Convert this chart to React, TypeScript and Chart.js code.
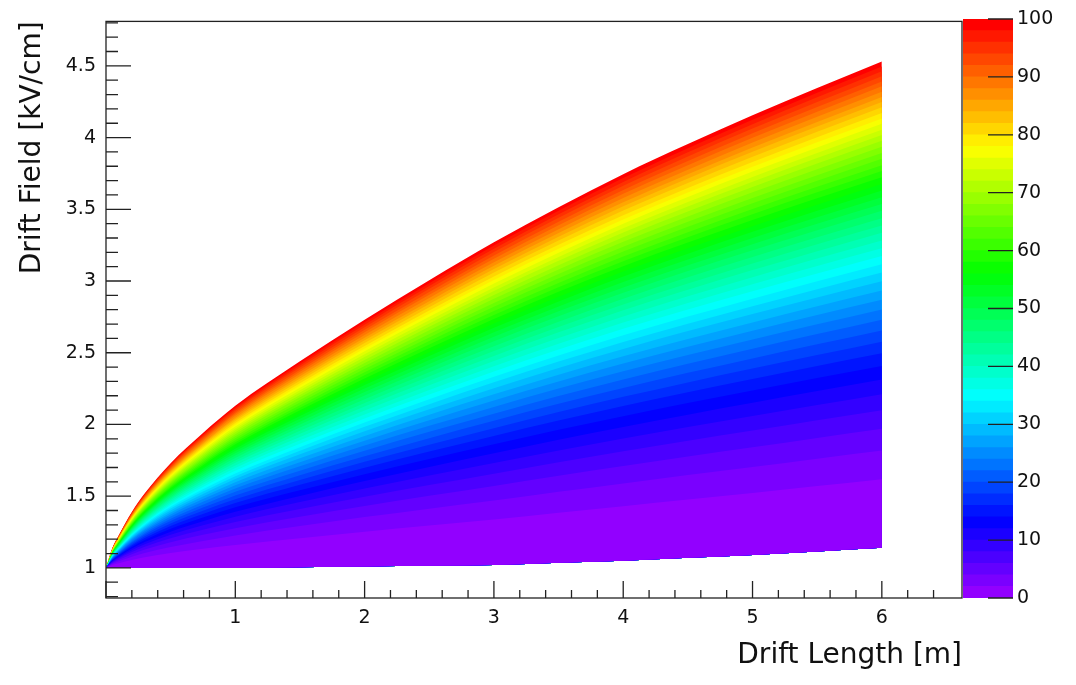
import React, { useEffect, useRef } from "react";
import { Chart, registerables } from "chart.js";

Chart.register(...registerables);

// ---- data ----
// Drift length sample columns (m)
const driftLength = [0, 0.05, 0.1, 0.2, 0.3, 0.5, 0.75, 1, 1.5, 2, 2.5, 3, 3.5, 4, 4.5, 5, 5.5, 6];
// Upper edge of the filled region (z = 100), kV/cm
const fieldAtTop = [1.0, 1.14, 1.23, 1.39, 1.52, 1.73, 1.94, 2.13, 2.44, 2.73, 3.005, 3.27, 3.515, 3.745, 3.955, 4.155, 4.345, 4.53];
// Lower edge of the filled region (z = 0), kV/cm
const fieldAtBottom = [1.0, 1.0, 1.0, 1.0, 1.0, 1.0, 1.0, 1.0, 1.005, 1.01, 1.015, 1.02, 1.035, 1.05, 1.07, 1.09, 1.115, 1.14];
// Contour levels of the colour (z) axis
const zLevels = [
  0, 2, 4, 6, 8, 10, 12, 14, 16, 18, 20, 22, 24, 26, 28, 30, 32, 34, 36, 38, 40, 42, 44, 46, 48, 50,
  52, 54, 56, 58, 60, 62, 64, 66, 68, 70, 72, 74, 76, 78, 80, 82, 84, 86, 88, 90, 92, 94, 96, 98, 100,
];
// Relative height of each contour level inside the filled band (0 = bottom edge, 1 = top edge)
const zLevelFraction = [
  0, 0.141, 0.2, 0.245, 0.283, 0.316, 0.346, 0.374, 0.4, 0.424, 0.447, 0.469, 0.49, 0.51, 0.529, 0.548,
  0.566, 0.583, 0.6, 0.616, 0.632, 0.648, 0.663, 0.678, 0.693, 0.707, 0.721, 0.735, 0.748, 0.762, 0.775,
  0.787, 0.8, 0.812, 0.825, 0.837, 0.849, 0.86, 0.872, 0.883, 0.894, 0.906, 0.917, 0.927, 0.938, 0.949,
  0.959, 0.97, 0.98, 0.99, 1,
];
const xTickValues = [1, 2, 3, 4, 5, 6];
const yTickValues = [1, 1.5, 2, 2.5, 3, 3.5, 4, 4.5];
const zTickValues = [0, 10, 20, 30, 40, 50, 60, 70, 80, 90, 100];

const FONT = "'DejaVu Sans', 'Liberation Sans', Arial, sans-serif";
const TEXT = "#111";
const AXIS = "#222";

// ROOT "pretty" palette: hue from violet (280) down to red (0)
function paletteColor(k: number): string {
  const hue = Math.max(0, 280 - k * 5.6);
  return `hsl(${hue}, 100%, 50%)`;
}

const framePlugin = {
  id: "rootFrame",
  afterDatasetsDraw(chart: any) {
    const { ctx, chartArea: a, scales } = chart;
    const x = scales.x;
    const y = scales.y;
    ctx.save();
    ctx.strokeStyle = AXIS;
    ctx.lineWidth = 1.3;
    ctx.beginPath();
    for (let i = 8; i <= 48; i++) {
      const py = y.getPixelForValue(i / 10);
      const len = i % 5 === 0 ? 25 : 12;
      ctx.moveTo(a.left, py);
      ctx.lineTo(a.left + len, py);
    }
    for (let i = 0; i <= 32; i++) {
      const px = x.getPixelForValue(i * 0.2);
      const len = i % 5 === 0 ? 17 : 8;
      ctx.moveTo(px, a.bottom);
      ctx.lineTo(px, a.bottom - len);
    }
    ctx.stroke();
    ctx.strokeRect(a.left, a.top, a.right - a.left, a.bottom - a.top);
    ctx.restore();
  },
};

const colorbarTickPlugin = {
  id: "colorbarTicks",
  afterDatasetsDraw(chart: any) {
    const { ctx, chartArea: a, scales } = chart;
    const y = scales.y;
    ctx.save();
    ctx.strokeStyle = AXIS;
    ctx.lineWidth = 1.3;
    ctx.beginPath();
    zTickValues.forEach((v) => {
      const py = y.getPixelForValue(v);
      ctx.moveTo(a.right - 25, py);
      ctx.lineTo(a.right, py);
    });
    ctx.stroke();
    ctx.restore();
  },
};

export default function App() {
  const mainRef = useRef<HTMLCanvasElement | null>(null);
  const barRef = useRef<HTMLCanvasElement | null>(null);

  useEffect(() => {
    document.body.style.margin = "0";
    if (!mainRef.current || !barRef.current) return;

    const datasets: any[] = zLevels.map((lev, k) => ({
      label: `z=${lev}`,
      data: driftLength.map((x, i) => ({
        x,
        y: fieldAtBottom[i] + zLevelFraction[k] * (fieldAtTop[i] - fieldAtBottom[i]),
      })),
      borderColor: "rgba(0,0,0,0)",
      borderWidth: 0,
      pointRadius: 0,
      cubicInterpolationMode: "monotone",
      backgroundColor: k === 0 ? "rgba(0,0,0,0)" : paletteColor(k),
      fill: k === 0 ? false : 0,
    }));

    const main = new Chart(mainRef.current, {
      type: "line",
      data: { datasets },
      options: {
        responsive: false,
        animation: false,
        devicePixelRatio: 1,
        events: [],
        layout: { padding: { top: 18, right: 114, left: 0, bottom: 0 } },
        plugins: {
          legend: { display: false },
          tooltip: { enabled: false },
          filler: { propagate: false },
        },
        scales: {
          x: {
            type: "linear",
            min: 0,
            max: 6.62,
            grid: { display: false, drawTicks: false },
            border: { display: false },
            afterBuildTicks: (s: any) => {
              s.ticks = xTickValues.map((v) => ({ value: v }));
            },
            afterFit: (s: any) => {
              s.height = 87;
            },
            ticks: {
              font: { family: FONT, size: 19 },
              color: TEXT,
              padding: 9,
              maxRotation: 0,
              autoSkip: false,
              callback: (v: any) => String(v),
            },
            title: {
              display: true,
              text: "Drift Length [m]",
              align: "end",
              color: TEXT,
              font: { family: FONT, size: 28 },
              padding: { top: 0, bottom: 12 },
            },
          },
          y: {
            type: "linear",
            min: 0.79,
            max: 4.81,
            grid: { display: false, drawTicks: false },
            border: { display: false },
            afterBuildTicks: (s: any) => {
              s.ticks = yTickValues.map((v) => ({ value: v }));
            },
            afterFit: (s: any) => {
              s.width = 106;
            },
            ticks: {
              font: { family: FONT, size: 19 },
              color: TEXT,
              padding: 10,
              autoSkip: false,
              callback: (v: any) => String(v),
            },
            title: {
              display: true,
              text: "Drift Field [kV/cm]",
              align: "end",
              color: TEXT,
              font: { family: FONT, size: 28 },
              padding: { top: 16, bottom: 0 },
            },
          },
        },
      } as any,
      plugins: [framePlugin],
    });

    const barDatasets: any[] = zLevels.slice(1).map((lev, j) => ({
      label: `band ${j}`,
      data: [[0, lev]],
      backgroundColor: paletteColor(j + 1),
      borderWidth: 0,
      grouped: false,
      barPercentage: 1,
      categoryPercentage: 1,
    }));

    const bar = new Chart(barRef.current, {
      type: "bar",
      data: { labels: ["z"], datasets: barDatasets },
      options: {
        responsive: false,
        animation: false,
        devicePixelRatio: 1,
        events: [],
        layout: { padding: { top: 19, bottom: 87, left: 0, right: 0 } },
        plugins: { legend: { display: false }, tooltip: { enabled: false } },
        scales: {
          x: { display: false },
          y: {
            position: "right",
            min: 0,
            max: 100,
            grid: { display: false, drawTicks: false },
            border: { display: false },
            afterBuildTicks: (s: any) => {
              s.ticks = zTickValues.map((v) => ({ value: v }));
            },
            afterFit: (s: any) => {
              s.width = 63;
            },
            ticks: {
              font: { family: FONT, size: 19 },
              color: TEXT,
              padding: 4,
              autoSkip: false,
              callback: (v: any) => String(v),
            },
          },
        },
      } as any,
      plugins: [colorbarTickPlugin],
    });

    return () => {
      main.destroy();
      bar.destroy();
    };
  }, []);

  return (
    <div
      style={{
        position: "fixed",
        left: 0,
        top: 0,
        width: 1076,
        height: 685,
        background: "#fff",
        overflow: "hidden",
      }}
    >
      <canvas
        ref={mainRef}
        width={1076}
        height={685}
        style={{ position: "absolute", left: 0, top: 0, width: 1076, height: 685 }}
      />
      <canvas
        ref={barRef}
        width={113}
        height={685}
        style={{ position: "absolute", left: 963, top: 0, width: 113, height: 685 }}
      />
    </div>
  );
}
